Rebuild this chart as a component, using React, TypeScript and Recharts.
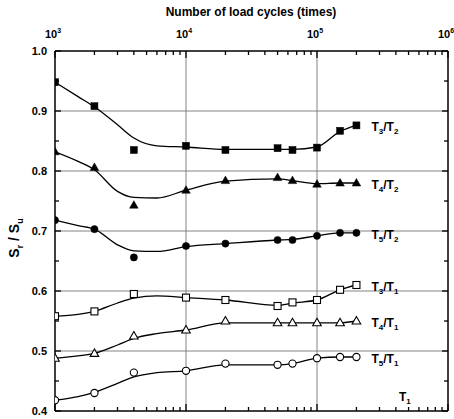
import React from "react";
import { ComposedChart, Line, XAxis, YAxis, ReferenceLine } from "recharts";

// load cycles where the measurements were taken
const cycles = [1000, 2000, 4000, 10000, 20000, 50000, 65000, 100000, 150000, 200000];
const t3t2 = [0.948, 0.908, 0.835, 0.842, 0.835, 0.838, 0.835, 0.839, 0.867, 0.876];
const t4t2 = [0.832, 0.806, 0.743, 0.768, 0.784, 0.789, 0.784, 0.778, 0.78, 0.78];
const t5t2 = [0.718, 0.703, 0.656, 0.675, 0.679, 0.685, 0.685, 0.692, 0.697, 0.697];
const t3t1 = [0.558, 0.566, 0.595, 0.589, 0.585, 0.575, 0.581, 0.585, 0.602, 0.61];
const t4t1 = [0.488, 0.496, 0.525, 0.535, 0.55, 0.547, 0.547, 0.547, 0.547, 0.55];
const t5t1 = [0.418, 0.43, 0.464, 0.467, 0.479, 0.477, 0.479, 0.488, 0.49, 0.49];

// fitted curves
const fitCycles = [1000, 1500, 2000, 3000, 4000, 6000, 10000, 20000, 50000, 65000, 100000, 150000, 200000];
const fitT3t2 = [0.948, 0.924, 0.907, 0.877, 0.855, 0.842, 0.84, 0.836, 0.836, 0.836, 0.84, 0.866, 0.876];
const fitT4t2 = [0.832, 0.816, 0.802, 0.766, 0.756, 0.755, 0.768, 0.783, 0.787, 0.784, 0.779, 0.78, 0.78];
const fitT5t2 = [0.718, 0.709, 0.703, 0.677, 0.667, 0.666, 0.674, 0.679, 0.685, 0.686, 0.692, 0.697, 0.697];
const fitT3t1 = [0.558, 0.561, 0.566, 0.58, 0.588, 0.592, 0.589, 0.585, 0.576, 0.58, 0.585, 0.602, 0.61];
const fitT4t1 = [0.488, 0.492, 0.496, 0.51, 0.521, 0.529, 0.535, 0.547, 0.547, 0.547, 0.547, 0.547, 0.55];
const fitT5t1 = [0.418, 0.424, 0.431, 0.446, 0.457, 0.464, 0.467, 0.477, 0.477, 0.479, 0.488, 0.49, 0.49];

const decades = [1000, 10000, 100000, 1000000];
const decadeLabels = ["3", "4", "5", "6"];
const yTicks = [0.4, 0.45, 0.5, 0.55, 0.6, 0.65, 0.7, 0.75, 0.8, 0.85, 0.9, 0.95, 1.0];
const yGrid = [0.5, 0.6, 0.7, 0.8, 0.9];
const xGrid = [10000, 100000];

const xTicks: number[] = [];
decades.forEach((d, i) => {
  xTicks.push(d);
  if (i < decades.length - 1) for (let m = 2; m <= 9; m++) xTicks.push(d * m);
});

const FONT = "'Liberation Sans', Arial, sans-serif";

type Kind = "square" | "triangle" | "circle";

const series = [
  { id: "t3t2", vals: t3t2, fit: fitT3t2, kind: "square" as Kind, filled: true, a: "3", b: "2" },
  { id: "t4t2", vals: t4t2, fit: fitT4t2, kind: "triangle" as Kind, filled: true, a: "4", b: "2" },
  { id: "t5t2", vals: t5t2, fit: fitT5t2, kind: "circle" as Kind, filled: true, a: "5", b: "2" },
  { id: "t3t1", vals: t3t1, fit: fitT3t1, kind: "square" as Kind, filled: false, a: "3", b: "1" },
  { id: "t4t1", vals: t4t1, fit: fitT4t1, kind: "triangle" as Kind, filled: false, a: "4", b: "1" },
  { id: "t5t1", vals: t5t1, fit: fitT5t1, kind: "circle" as Kind, filled: false, a: "5", b: "1" },
];

const makeDot = (kind: Kind, filled: boolean) => (p: any) => {
  const { cx, cy, index } = p;
  const fill = filled ? "#000" : "#fff";
  const sw = filled ? 0.5 : 1.1;
  if (cx == null || cy == null) return <g key={index} />;
  if (kind === "square")
    return <rect key={index} x={cx - 3.5} y={cy - 3.5} width={7} height={7} fill={fill} stroke="#000" strokeWidth={sw} />;
  if (kind === "triangle")
    return (
      <polygon
        key={index}
        points={`${cx},${cy - 4.5} ${cx - 4.3},${cy + 3} ${cx + 4.3},${cy + 3}`}
        fill={fill}
        stroke="#000"
        strokeWidth={sw}
      />
    );
  return <circle key={index} cx={cx} cy={cy} r={3.6} fill={fill} stroke="#000" strokeWidth={sw} />;
};

const makeLabel = (a: string, b: string) => (p: any) => {
  if (p.index !== cycles.length - 1) return null;
  return (
    <text x={p.x + 15} y={p.y + 6} fontFamily={FONT} fontWeight="bold" fontSize={12} fill="#000">
      T<tspan dy={3} fontSize={8}>{a}</tspan>
      <tspan dy={-3} fontSize={12}>/T</tspan>
      <tspan dy={3} fontSize={8}>{b}</tspan>
    </text>
  );
};

const TopTick = (p: any) => {
  const { x, y, payload } = p;
  const di = decades.indexOf(payload.value);
  const major = di >= 0;
  return (
    <g>
      <line x1={x} x2={x} y1={y} y2={y + (major ? 7 : 4)} stroke="#000" strokeWidth={1.3} />
      {major && (
        <text x={x - 2} y={y - 13} textAnchor="middle" fontFamily={FONT} fontWeight="bold" fontSize={11} fill="#000">
          10<tspan dy={-5} fontSize={7}>{decadeLabels[di]}</tspan>
        </text>
      )}
    </g>
  );
};

const BottomTick = (p: any) => {
  const { x, y, payload } = p;
  const major = decades.indexOf(payload.value) >= 0;
  return <line x1={x} x2={x} y1={y} y2={y - (major ? 7 : 4)} stroke="#000" strokeWidth={1.3} />;
};

const isMajorY = (v: number) => Math.abs(v * 10 - Math.round(v * 10)) < 1e-6;

const LeftTick = (p: any) => {
  const { x, y, payload } = p;
  const v = payload.value as number;
  const major = isMajorY(v);
  return (
    <g>
      <line x1={x} x2={x + (major ? 6 : 4)} y1={y} y2={y} stroke="#000" strokeWidth={1.3} />
      {major && (
        <text x={x - 8} y={y + 4} textAnchor="end" fontFamily={FONT} fontWeight="bold" fontSize={11} fill="#000">
          {v.toFixed(1)}
        </text>
      )}
    </g>
  );
};

const RightTick = (p: any) => {
  const { x, y, payload } = p;
  const major = isMajorY(payload.value);
  return <line x1={x} x2={x - (major ? 6 : 4)} y1={y} y2={y} stroke="#000" strokeWidth={1.3} />;
};

export default function App() {
  return (
    <div style={{ position: "absolute", left: 0, top: 0, background: "#fff" }}>
      <ComposedChart width={454} height={419} margin={{ top: 21, right: 5, left: 10, bottom: 7 }}>
        <XAxis
          xAxisId="top"
          orientation="top"
          dataKey="n"
          type="number"
          scale="log"
          domain={[1000, 1000000]}
          allowDataOverflow
          ticks={xTicks}
          interval={0}
          height={30}
          tickSize={0}
          tickMargin={0}
          tickLine={false}
          tick={<TopTick />}
          axisLine={{ stroke: "#000", strokeWidth: 1.5 }}
          label={{
            content: () => (
              <text x={251} y={16} textAnchor="middle" fontFamily={FONT} fontWeight="bold" fontSize={12} fill="#000">
                Number of load cycles (times)
              </text>
            ),
          }}
        />
        <XAxis
          xAxisId="bottom"
          orientation="bottom"
          dataKey="n"
          type="number"
          scale="log"
          domain={[1000, 1000000]}
          allowDataOverflow
          ticks={xTicks}
          interval={0}
          height={1}
          tickSize={0}
          tickMargin={0}
          tickLine={false}
          tick={<BottomTick />}
          axisLine={{ stroke: "#000", strokeWidth: 1.5 }}
          label={{
            content: () => (
              <text x={399} y={401} fontFamily={FONT} fontWeight="bold" fontSize={12} fill="#000">
                T<tspan dy={3} fontSize={8}>1</tspan>
              </text>
            ),
          }}
        />
        <YAxis
          yAxisId="left"
          type="number"
          domain={[0.4, 1.0]}
          allowDataOverflow
          ticks={yTicks}
          interval={0}
          width={45}
          tickSize={0}
          tickMargin={0}
          tickLine={false}
          tick={<LeftTick />}
          axisLine={{ stroke: "#000", strokeWidth: 1.5 }}
          label={{
            content: () => (
              <text
                transform="translate(19,238) rotate(-90)"
                textAnchor="middle"
                fontFamily={FONT}
                fontWeight="bold"
                fontSize={14}
                fill="#000"
              >
                S<tspan dy={4} fontSize={9}>r</tspan>
                <tspan dy={-4} fontSize={14}> / S</tspan>
                <tspan dy={4} fontSize={9}>u</tspan>
              </text>
            ),
          }}
        />
        <YAxis
          yAxisId="right"
          orientation="right"
          type="number"
          domain={[0.4, 1.0]}
          allowDataOverflow
          ticks={yTicks}
          interval={0}
          width={1}
          tickSize={0}
          tickMargin={0}
          tickLine={false}
          tick={<RightTick />}
          axisLine={{ stroke: "#000", strokeWidth: 1.5 }}
        />
        {yGrid.map((v) => (
          <ReferenceLine key={"gy" + v} xAxisId="top" yAxisId="left" y={v} stroke="#777" strokeWidth={0.9} />
        ))}
        {xGrid.map((v) => (
          <ReferenceLine key={"gx" + v} xAxisId="top" yAxisId="left" x={v} stroke="#777" strokeWidth={0.9} />
        ))}
        {series.map((s) => (
          <Line
            key={s.id + "fit"}
            xAxisId="top"
            yAxisId="left"
            data={fitCycles.map((n, i) => ({ n, v: s.fit[i] }))}
            dataKey="v"
            type="monotone"
            stroke="#000"
            strokeWidth={1.3}
            dot={false}
            activeDot={false}
            isAnimationActive={false}
          />
        ))}
        {series.map((s) => (
          <Line
            key={s.id}
            xAxisId="top"
            yAxisId="left"
            data={cycles.map((n, i) => ({ n, v: s.vals[i] }))}
            dataKey="v"
            stroke="none"
            dot={makeDot(s.kind, s.filled)}
            activeDot={false}
            label={makeLabel(s.a, s.b)}
            isAnimationActive={false}
          />
        ))}
      </ComposedChart>
    </div>
  );
}
